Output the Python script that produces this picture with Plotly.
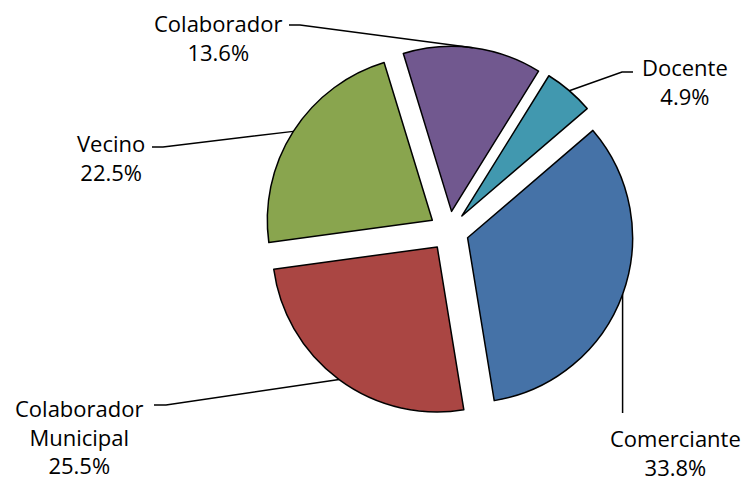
import math
import plotly.graph_objects as go

# ---- data ----
categories = ["Colaborador", "Docente", "Comerciante", "Colaborador Municipal", "Vecino"]
label_text = ["Colaborador", "Docente", "Comerciante", "Colaborador<br>Municipal", "Vecino"]
values = [13.6, 4.9, 33.8, 25.5, 22.5]
colors = ["#71588F", "#4198AF", "#4572A7", "#AA4643", "#89A54E"]

# ---- layout constants ----
OFF = 8                    # browser default body margin
W, H = 749 - OFF, 483 - OFF
CX, CY = 449, 231          # pie centre in window px
R = 165                    # slice radius in px
PULL = 0.12
ROTATION = -17
HALF = R * (1 + PULL)

def fx(px):
    return (px - OFF) / W

def fy(py):
    return 1 - (py - OFF) / H

fig = go.Figure(go.Pie(
    labels=categories,
    values=values,
    sort=False,
    direction="clockwise",
    rotation=ROTATION,
    pull=[PULL] * len(values),
    marker=dict(colors=colors, line=dict(color="#000000", width=1.5)),
    textinfo="none",
    hoverinfo="label+percent",
    showlegend=False,
    domain=dict(x=[fx(CX - HALF), fx(CX + HALF)], y=[fy(CY + HALF), fy(CY - HALF)]),
))

# label placement (window px): text centre and leader elbow/end points
label_pos = {
    "Colaborador": dict(tx=218, ty=38, path=[(300, 25), (289, 25)]),
    "Docente": dict(tx=685, ty=82, path=[(622, 72), (633, 72)]),
    "Comerciante": dict(tx=675, ty=452, path=None),
    "Colaborador Municipal": dict(tx=79, ty=436, path=[(166, 405), (154, 405)]),
    "Vecino": dict(tx=111, ty=157, path=[(163, 147), (152, 147)]),
}

total = sum(values)
cum = 0.0
shapes = []
annotations = []
for cat, lab, v in zip(categories, label_text, values):
    mid = ROTATION + (cum + v / 2) / total * 360.0
    cum += v
    a = math.radians(mid)
    ax = CX + R * (1 + PULL) * math.sin(a)
    ay = CY - R * (1 + PULL) * math.cos(a)
    lp = label_pos[cat]
    pts = [(ax, ay)]
    if lp["path"] is None:
        pts.append((ax, 413))
    else:
        pts += lp["path"]
    d = "M " + " L ".join(f"{fx(x):.5f},{fy(y):.5f}" for x, y in pts)
    shapes.append(dict(type="path", xref="paper", yref="paper", path=d,
                       line=dict(color="#000000", width=1.5)))
    annotations.append(dict(
        x=fx(lp["tx"]), y=fy(lp["ty"]), xref="paper", yref="paper",
        text=f"{lab}<br>{v:.1f}%", showarrow=False,
        xanchor="center", yanchor="middle", align="center", borderpad=0,
        font=dict(family="Open Sans", size=22, color="#000000"),
    ))

fig.update_layout(
    width=W, height=H,
    margin=dict(l=0, r=0, t=0, b=0),
    paper_bgcolor="white",
    plot_bgcolor="white",
    shapes=shapes,
    annotations=annotations,
)

fig.write_html("out.html")
